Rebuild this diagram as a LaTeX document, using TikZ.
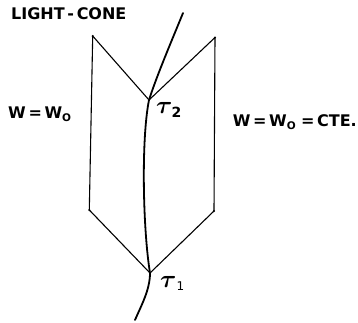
\documentclass[tikz,border=0pt]{standalone}
\usepackage{fontspec}
\usepackage{amsmath}
\setsansfont{DejaVu Sans}
\newcommand{\subO}{\raisebox{-3pt}{\fontsize{10.5}{11}\selectfont O}}
\begin{document}
\begin{tikzpicture}[x=1pt,y=-1pt,
  cone/.style={line width=1.1pt, line join=round},
  worldline/.style={line width=1.8pt, line cap=round},
  corner/.style={circle, fill=black, inner sep=0pt, minimum size=2.4pt},
  lbl/.style={inner sep=0pt, font=\sffamily\bfseries\fontsize{16}{18}\selectfont},
  taulbl/.style={inner sep=0pt, anchor=west}
]
\useasboundingbox (0,0) rectangle (358,322);
% points
\coordinate (top) at (183,13);
\coordinate (t2) at (149,100);
\coordinate (t1) at (150,273);
\coordinate (bot) at (135,320);
\node[corner] (lt) at (92.7,36) {};
\node[corner] (lb) at (89.3,210) {};
\node[corner] (rt) at (215,37.5) {};
\node[corner] (rb) at (214,211) {};
% cone
\draw[cone] (lt.center) -- (t2) -- (rt.center) -- (rb.center) -- (t1) -- (lb.center) -- cycle;
% world line
\draw[worldline] (top) .. controls (172,40) and (157,75) .. (t2)
  .. controls (141,140) and (143,230) .. (t1)
  .. controls (150,290) and (141,306) .. (bot);
% labels
\node[lbl, anchor=west] (lc) at (11,14) {LIGHT\,-\,CONE};
\node[lbl, anchor=west] (wl) at (8,114) {W\,=\,W\subO};
\node[lbl, anchor=east] (wr) at (357,122.5) {W\,=\,W\subO\,\,=\,CTE.};
\node[taulbl] (l2) at (156,110) {\fontsize{30}{32}\selectfont$\boldsymbol{\tau}$\hspace{-1pt}\raisebox{-4pt}{\sffamily\bfseries\fontsize{14}{15}\selectfont 2}};
\node[taulbl] (l1) at (160,283) {\fontsize{30}{32}\selectfont$\boldsymbol{\tau}$\hspace{0pt}\raisebox{-3pt}{\sffamily\fontsize{12}{13}\selectfont 1}};
\end{tikzpicture}
\end{document}
